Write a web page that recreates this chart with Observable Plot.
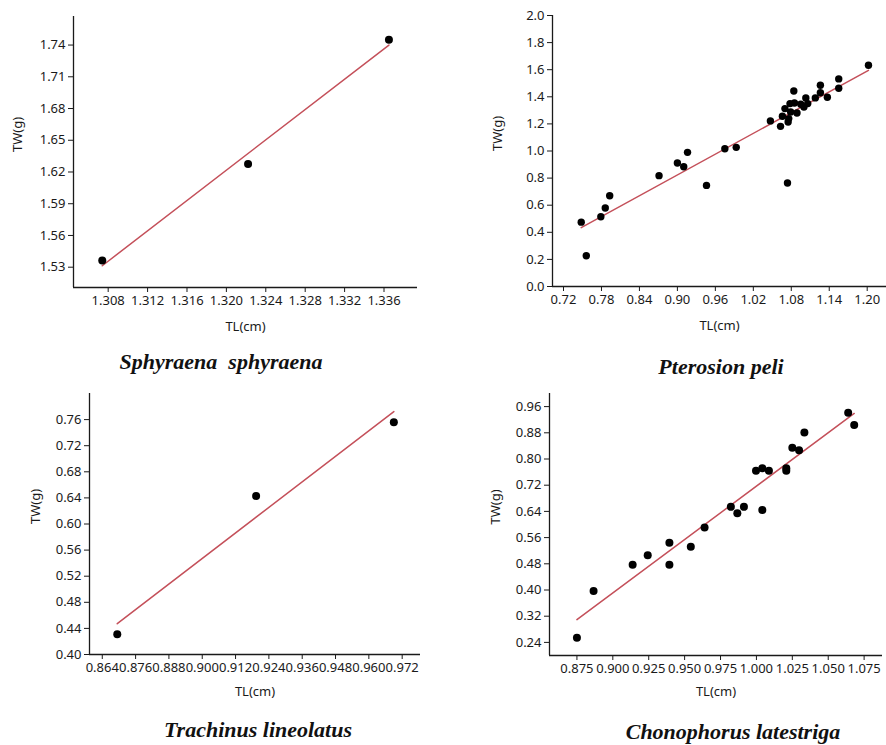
<!DOCTYPE html>
<html>
<head>
<meta charset="utf-8">
<script src="https://cdn.jsdelivr.net/npm/d3@7"></script>
<script src="https://cdn.jsdelivr.net/npm/@observablehq/plot@0.6"></script>
<style>
  html, body { margin: 0; padding: 0; background: #fff; }
  #wrap { position: relative; width: 886px; height: 745px; overflow: hidden; background: #fff; }
  .panel { position: absolute; }
  .species { position: absolute; width: 340px; text-align: center; font-family: "Liberation Serif", "DejaVu Serif", serif; font-weight: bold; font-style: italic; font-size: 22px; line-height: 26px; color: #111; white-space: pre; }
</style>
</head>
<body>
<div id="wrap"></div>
<script>
// ---------- Data ----------
const speciesNames = ["Sphyraena  sphyraena", "Pterosion peli", "Trachinus lineolatus", "Chonophorus latestriga"];
const xLabel = "TL(cm)";
const yLabel = "TW(g)";

// Sphyraena sphyraena
const sphyTL = [1.3074, 1.3222, 1.3365];
const sphyTW = [1.5363, 1.6275, 1.7451];
const sphyXTicks = [1.308, 1.312, 1.316, 1.320, 1.324, 1.328, 1.332, 1.336];
const sphyYTicks = [1.53, 1.56, 1.59, 1.62, 1.65, 1.68, 1.71, 1.74];

// Pterosion peli
const pterTL = [0.748, 0.756, 0.779, 0.786, 0.793, 0.871, 0.900, 0.910, 0.916, 0.946,
  0.975, 0.993, 1.047, 1.063, 1.066, 1.070, 1.074, 1.075, 1.076, 1.078,
  1.079, 1.084, 1.085, 1.089, 1.095, 1.100, 1.103, 1.106, 1.118, 1.126,
  1.126, 1.137, 1.155, 1.155, 1.202];
const pterTW = [0.475, 0.227, 0.515, 0.579, 0.670, 0.818, 0.911, 0.884, 0.990, 0.746,
  1.017, 1.027, 1.222, 1.182, 1.256, 1.313, 0.764, 1.214, 1.239, 1.350,
  1.288, 1.443, 1.354, 1.280, 1.345, 1.325, 1.392, 1.350, 1.392, 1.485,
  1.430, 1.397, 1.532, 1.463, 1.633];
const pterXTicks = [0.72, 0.78, 0.84, 0.90, 0.96, 1.02, 1.08, 1.14, 1.20];
const pterYTicks = [0.0, 0.2, 0.4, 0.6, 0.8, 1.0, 1.2, 1.4, 1.6, 1.8, 2.0];

// Trachinus lineolatus
const trachTL = [0.8694, 0.9194, 0.9690];
const trachTW = [0.431, 0.643, 0.756];
const trachXTicks = [0.864, 0.876, 0.888, 0.900, 0.912, 0.924, 0.936, 0.948, 0.960, 0.972];
const trachYTicks = [0.40, 0.44, 0.48, 0.52, 0.56, 0.60, 0.64, 0.68, 0.72, 0.76];

// Chonophorus latestriga
const chonTL = [0.875, 0.8866, 0.9138, 0.9243, 0.9394, 0.9394, 0.9543, 0.9639, 0.9822, 0.9867,
  0.9913, 0.9997, 1.0041, 1.0041, 1.0087, 1.0208, 1.0208, 1.0250, 1.0297, 1.0334,
  1.0639, 1.0681];
const chonTW = [0.254, 0.397, 0.477, 0.506, 0.544, 0.477, 0.532, 0.591, 0.654, 0.634,
  0.654, 0.764, 0.644, 0.772, 0.764, 0.772, 0.764, 0.834, 0.827, 0.881,
  0.941, 0.904];
const chonXTicks = [0.875, 0.900, 0.925, 0.950, 0.975, 1.000, 1.025, 1.050, 1.075];
const chonYTicks = [0.24, 0.32, 0.40, 0.48, 0.56, 0.64, 0.72, 0.80, 0.88, 0.96];

// ---------- Layout / style ----------
const panels = [
  {name: speciesNames[0], tl: sphyTL, tw: sphyTW, xt: sphyXTicks, yt: sphyYTicks, xf: ".3f", yf: ".2f",
   xdom: [1.30448, 1.3394], ydom: [1.5108, 1.767],
   left: 0, top: 0, width: 440, height: 345, mt: 16, mr: 23, mb: 58, ml: 73,
   xlabDy: 43, ylabDx: -56, r: 4, titleX: 221, titleY: 362},
  {name: speciesNames[1], tl: pterTL, tw: pterTW, xt: pterXTicks, yt: pterYTicks, xf: ".2f", yf: ".1f",
   xdom: [0.7026, 1.2305], ydom: [0, 2.0],
   left: 440, top: 0, width: 446, height: 345, mt: 15, mr: 0, mb: 59, ml: 112,
   xlabDy: 43, ylabDx: -55, r: 3.7, titleX: 721, titleY: 367},
  {name: speciesNames[2], tl: trachTL, tw: trachTW, xt: trachXTicks, yt: trachYTicks, xf: ".3f", yf: ".2f",
   xdom: [0.8594, 0.9786], ydom: [0.40, 0.80],
   left: 0, top: 380, width: 440, height: 330, mt: 13, mr: 20, mb: 56, ml: 89,
   xlabDy: 41, ylabDx: -54, r: 4, titleX: 258, titleY: 730},
  {name: speciesNames[3], tl: chonTL, tw: chonTW, xt: chonXTicks, yt: chonYTicks, xf: ".3f", yf: ".2f",
   xdom: [0.8559, 1.0878], ydom: [0.20, 1.0],
   left: 440, top: 380, width: 446, height: 330, mt: 13, mr: 4, mb: 55, ml: 109,
   xlabDy: 40, ylabDx: -54, r: 4, titleX: 733, titleY: 732}
];

const wrap = document.getElementById("wrap");
const fitColor = "#c4505a";
const inkColor = "#1a1a1a";

for (const p of panels) {
  const data = p.tl.map((x, i) => ({tl: x, tw: p.tw[i]}));
  const chart = Plot.plot({
    width: p.width,
    height: p.height,
    marginTop: p.mt, marginRight: p.mr, marginBottom: p.mb, marginLeft: p.ml,
    style: {fontFamily: "'Noto Sans', 'Open Sans', sans-serif", fontSize: "13px", color: inkColor, background: "transparent", overflow: "visible"},
    x: {domain: p.xdom, ticks: p.xt, tickFormat: d3.format(p.xf), tickSize: 5, tickPadding: 3, label: null},
    y: {domain: p.ydom, ticks: p.yt, tickFormat: d3.format(p.yf), tickSize: 5, tickPadding: 3, label: null},
    marks: [
      Plot.ruleX([p.xdom[0]], {stroke: inkColor, strokeWidth: 1.3}),
      Plot.ruleY([p.ydom[0]], {stroke: inkColor, strokeWidth: 1.3}),
      Plot.linearRegressionY(data, {x: "tl", y: "tw", stroke: fitColor, strokeWidth: 1.5, ci: 0}),
      Plot.dot(data, {x: "tl", y: "tw", r: p.r, fill: "#000", stroke: null}),
      Plot.text([xLabel], {text: d => d, frameAnchor: "bottom", dy: p.xlabDy, fill: inkColor, fontSize: 13}),
      Plot.text([yLabel], {text: d => d, frameAnchor: "left", dx: p.ylabDx, rotate: -90, fill: inkColor, fontSize: 13})
    ]
  });
  chart.classList.add("panel");
  chart.style.left = p.left + "px";
  chart.style.top = p.top + "px";
  wrap.appendChild(chart);

  const t = document.createElement("div");
  t.className = "species";
  t.textContent = p.name;
  t.style.left = (p.titleX - 170) + "px";
  t.style.top = (p.titleY - 13) + "px";
  wrap.appendChild(t);
}
</script>
</body>
</html>
